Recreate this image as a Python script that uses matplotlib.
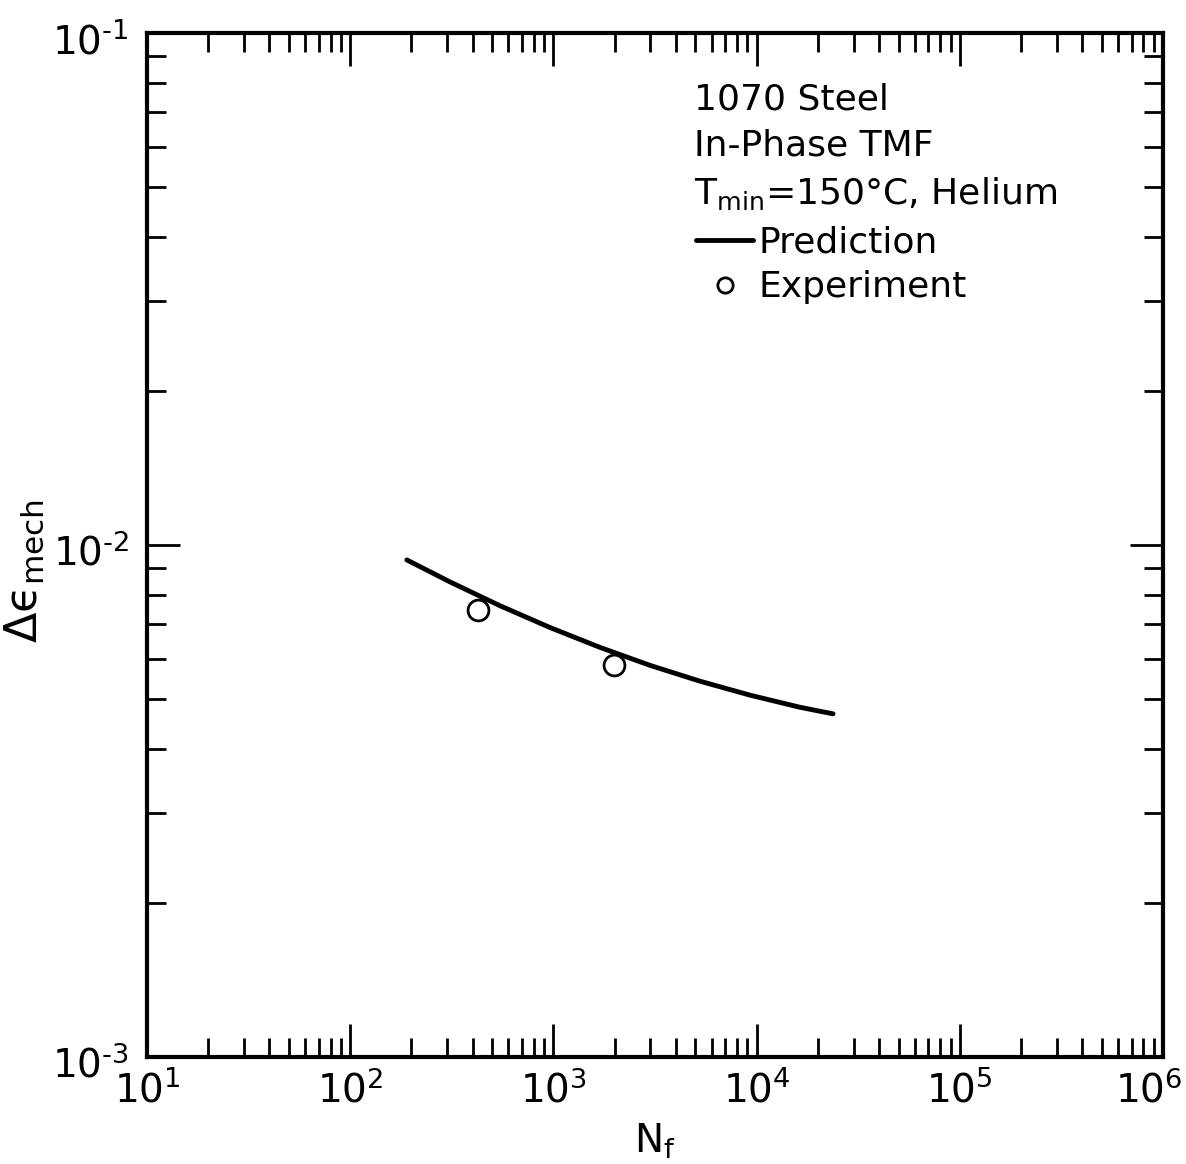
import matplotlib
matplotlib.use("Agg")
import matplotlib.pyplot as plt
import matplotlib.transforms as mtransforms
from matplotlib.ticker import LogLocator, NullFormatter, FixedLocator, FixedFormatter
from matplotlib.lines import Line2D

# Data
pred_N = [190, 310, 546, 962, 1696, 2988, 5265, 9280, 16350, 23770]
pred_strain = [0.00935, 0.00847, 0.00761, 0.00690, 0.00631, 0.00582, 0.00542, 0.00509, 0.00482, 0.00468]
exp_N = [426, 1987]
exp_strain = [0.00747, 0.00583]

x_ticks = [1e1, 1e2, 1e3, 1e4, 1e5, 1e6]
x_labels = [r"$10^{1}$", r"$10^{2}$", r"$10^{3}$", r"$10^{4}$", r"$10^{5}$", r"$10^{6}$"]
y_ticks = [1e-3, 1e-2, 1e-1]
y_labels = [r"$10^{\text{-}3}$", r"$10^{\text{-}2}$", r"$10^{\text{-}1}$"]
info_lines = ["1070 Steel", "In-Phase TMF", r"T$_{\mathregular{min}}$=150°C, Helium"]

plt.rcParams['mathtext.fontset'] = 'dejavusans'
fig = plt.figure(figsize=(11.86, 11.64), dpi=100)
ax = fig.add_axes([147/1186, 1-1057/1164, 1016/1186, 1024/1164])

ax.plot(pred_N, pred_strain, color='black', lw=3.5, solid_capstyle='round',
        solid_joinstyle='round', label='Prediction')
ax.plot(exp_N, exp_strain, linestyle='none', marker='o', markersize=15, markerfacecolor='white',
        markeredgecolor='black', markeredgewidth=2, label='Experiment')

ax.set_xscale('log')
ax.set_yscale('log')
ax.set_xlim(1e1, 1e6)
ax.set_ylim(1e-3, 1e-1)

ax.xaxis.set_major_locator(FixedLocator(x_ticks))
ax.xaxis.set_major_formatter(FixedFormatter(x_labels))
ax.yaxis.set_major_locator(FixedLocator(y_ticks))
ax.yaxis.set_major_formatter(FixedFormatter(y_labels))
ax.xaxis.set_minor_locator(LogLocator(base=10, subs=range(2, 10), numticks=20))
ax.yaxis.set_minor_locator(LogLocator(base=10, subs=range(2, 10), numticks=20))
ax.xaxis.set_minor_formatter(NullFormatter())
ax.yaxis.set_minor_formatter(NullFormatter())

ax.tick_params(which='both', direction='in', top=True, right=True, width=2, colors='black')
ax.tick_params(which='major', length=24, labelsize=28, pad=10)
ax.tick_params(axis='y', which='major', pad=13)
ax.tick_params(which='minor', length=14)
for s in ax.spines.values():
    s.set_linewidth(3)

# shift the last x tick label slightly left so it stays inside the figure
fig.canvas.draw()
last = ax.get_xticklabels()[-1]
last.set_transform(last.get_transform() + mtransforms.ScaledTranslation(-14/100, 0, fig.dpi_scale_trans))
for lab in ax.get_yticklabels():
    lab.set_transform(lab.get_transform() + mtransforms.ScaledTranslation(0, -5/100, fig.dpi_scale_trans))

ax.set_xlabel(r"N$_{\mathregular{f}}$", fontsize=28, labelpad=8)
ax.set_ylabel("Δϵ$_{\\mathregular{mech}}$", fontsize=32)
ax.yaxis.set_label_coords(-0.099, 0.475)

ys = [0.935, 0.89, 0.843]
for t, y in zip(info_lines, ys):
    ax.text(0.538, y, t, transform=ax.transAxes, fontsize=26, va='center', ha='left')

leg = ax.legend(loc='upper left', bbox_to_anchor=(0.540, 0.812), frameon=False, fontsize=26,
                handlelength=1.6, handletextpad=0.15, labelspacing=0.3, borderaxespad=0,
                borderpad=0)
for h in leg.legend_handles:
    if isinstance(h, Line2D) and h.get_marker() == 'o':
        h.set_markersize(11)

fig.savefig("out.png", dpi=100)
